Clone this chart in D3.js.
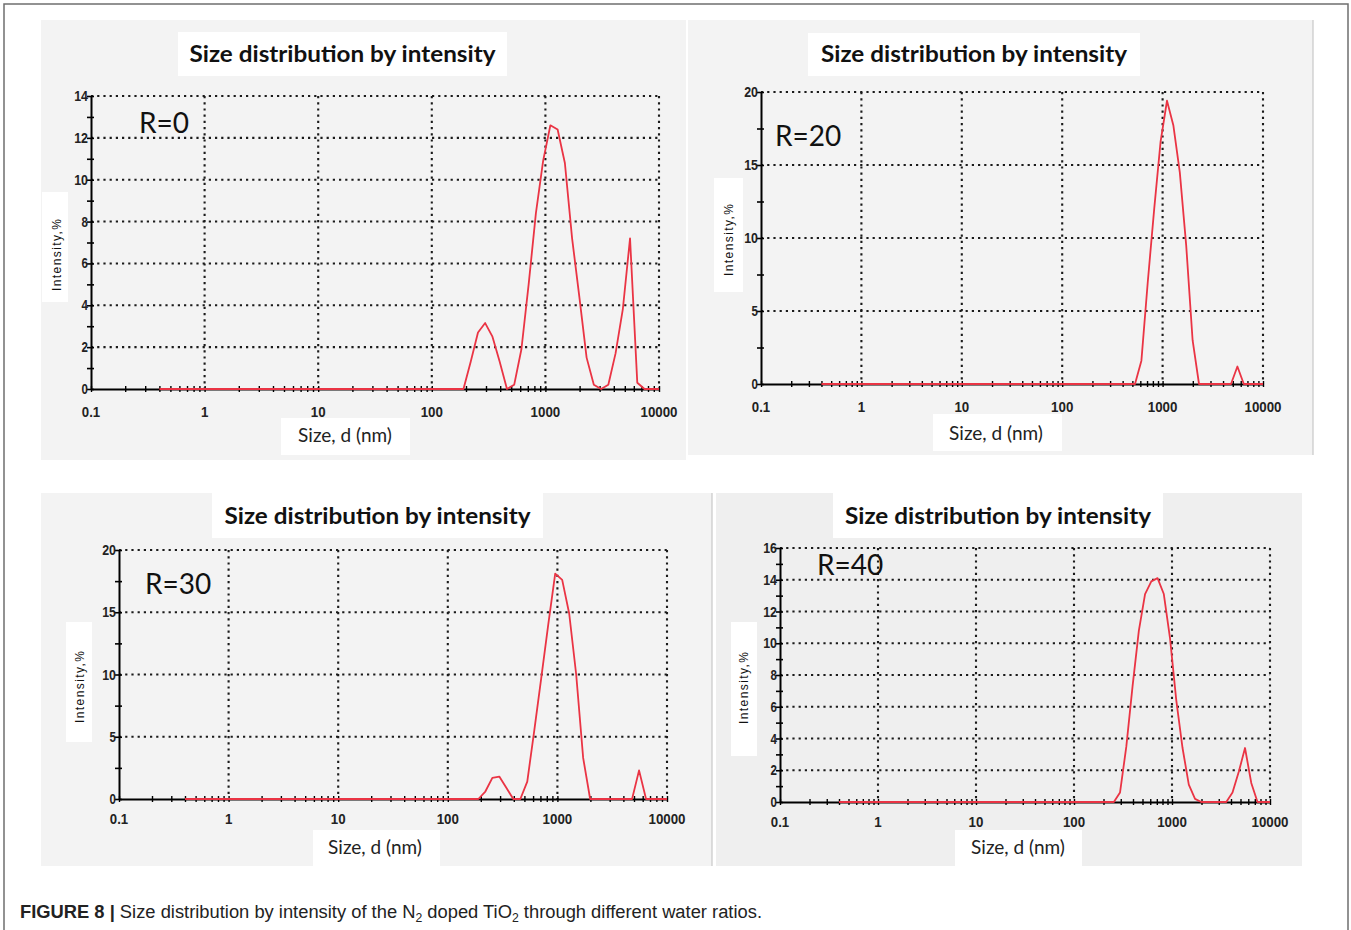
<!DOCTYPE html>
<html>
<head>
<meta charset="utf-8">
<script src="https://cdn.jsdelivr.net/npm/d3@7"></script>
<style>
  body { margin: 0; background: #fff; }
  svg { display: block; }
</style>
</head>
<body>
<svg id="fig" width="1351" height="930"></svg>
<script>
// ---- data (size in nm, intensity in %) ----
const sizesR0 = [0.4, 190, 220, 255, 295, 342, 396, 459, 531, 615, 712, 825, 955, 1106, 1281, 1484, 1718, 1990, 2305, 2669, 3091, 3580, 4145, 4801, 5560, 6439, 7456, 10000];
const intensityR0 = [0, 0, 1.3, 2.7, 3.15, 2.5, 1.3, 0, 0.2, 1.9, 5.0, 8.4, 10.9, 12.6, 12.4, 10.8, 7.2, 4.4, 1.5, 0.2, 0, 0.2, 1.7, 3.8, 7.2, 0.3, 0, 0];

const sizesR20 = [0.4, 531, 615, 712, 825, 955, 1106, 1281, 1484, 1718, 1990, 2305, 4801, 5560, 6439, 10000];
const intensityR20 = [0, 0, 1.6, 7.0, 12.0, 16.6, 19.4, 17.7, 14.5, 9.5, 3.0, 0, 0, 1.2, 0, 0];

const sizesR30 = [0.4, 190, 220, 255, 295, 342, 396, 459, 531, 615, 712, 825, 955, 1106, 1281, 1484, 1718, 1990, 4801, 5560, 6439, 10000];
const intensityR30 = [0, 0, 0.6, 1.7, 1.8, 0.9, 0, 0, 1.4, 5.5, 9.7, 14.0, 18.1, 17.6, 14.9, 10.0, 3.3, 0, 0, 2.3, 0, 0];

const sizesR40 = [0.4, 255, 295, 342, 396, 459, 531, 615, 712, 825, 955, 1106, 1281, 1484, 1718, 1990, 3580, 4145, 4801, 5560, 6439, 7456, 10000];
const intensityR40 = [0, 0, 0.6, 3.5, 7.3, 10.8, 13.1, 13.9, 14.1, 13.1, 10.3, 6.4, 3.4, 1.1, 0.2, 0, 0, 0.6, 1.9, 3.4, 1.2, 0, 0];

const xTickValues = [0.1, 1, 10, 100, 1000, 10000];
const xTickLabels = ["0.1", "1", "10", "100", "1000", "10000"];
const yTicksR0 = [0, 2, 4, 6, 8, 10, 12, 14];
const yTicksR20 = [0, 5, 10, 15, 20];
const yTicksR30 = [0, 5, 10, 15, 20];
const yTicksR40 = [0, 2, 4, 6, 8, 10, 12, 14, 16];
const panelTags = ["R=0", "R=20", "R=30", "R=40"];

const titleText = "Size distribution by intensity";
const xLabelText = "Size, d (nm)";
const yLabelText = "Intensity,%";

// ---- layout of each panel (pixel boxes) ----
const panels = [
  { tag: panelTags[0], sizes: sizesR0, values: intensityR0, yTicks: yTicksR0, yMinor: 1,
    bg: { x: 41, y: 20, w: 645, h: 440, fill: "#f3f3f3" },
    plot: { x0: 91, x1: 659, y0: 389, y1: 96 },
    title: { x: 178, y: 32, w: 329, h: 44, base: 62 },
    tagPos: { x: 139, y: 133 },
    yLab: { x: 42, y: 192, w: 26, h: 110, cx: 57, cy: 255 },
    xLab: { x: 281, y: 418, w: 129, h: 37, cx: 345, base: 442 },
    xTickDy: 28 },
  { tag: panelTags[1], sizes: sizesR20, values: intensityR20, yTicks: yTicksR20, yMinor: 2.5,
    bg: { x: 688, y: 20, w: 625, h: 435, fill: "#f3f3f3", edge: true },
    plot: { x0: 761, x1: 1263, y0: 384, y1: 92 },
    title: { x: 808, y: 33, w: 332, h: 43, base: 62 },
    tagPos: { x: 775, y: 146 },
    yLab: { x: 714, y: 178, w: 29, h: 114, cx: 729, cy: 240 },
    xLab: { x: 933, y: 414, w: 129, h: 37, cx: 996, base: 440 },
    xTickDy: 28 },
  { tag: panelTags[2], sizes: sizesR30, values: intensityR30, yTicks: yTicksR30, yMinor: 2.5,
    bg: { x: 41, y: 493, w: 671, h: 373, fill: "#f3f3f3", edge: true },
    plot: { x0: 119, x1: 667, y0: 799, y1: 550 },
    title: { x: 212, y: 493, w: 331, h: 45, base: 524 },
    tagPos: { x: 145, y: 594 },
    yLab: { x: 66, y: 622, w: 26, h: 120, cx: 80, cy: 687 },
    xLab: { x: 313, y: 830, w: 127, h: 36, cx: 375, base: 854 },
    xTickDy: 25 },
  { tag: panelTags[3], sizes: sizesR40, values: intensityR40, yTicks: yTicksR40, yMinor: 1,
    bg: { x: 716, y: 493, w: 586, h: 373, fill: "#efefef" },
    plot: { x0: 780, x1: 1270, y0: 802, y1: 548 },
    title: { x: 833, y: 493, w: 330, h: 45, base: 524 },
    tagPos: { x: 817, y: 575 },
    yLab: { x: 731, y: 622, w: 26, h: 134, cx: 744, cy: 688 },
    xLab: { x: 955, y: 830, w: 127, h: 36, cx: 1018, base: 854 },
    xTickDy: 25 }
];

const svg = d3.select("#fig");

// page frame
svg.append("path")
  .attr("d", "M4,930 V4 H1348 V930")
  .attr("fill", "none")
  .attr("stroke", "#6f6f6f")
  .attr("stroke-width", 1.5);

const dotted = "2.2,4";
const tickFont = "'Liberation Sans', Arial, sans-serif";
// narrow bold digits, like the instrument's plot labels
const labelWidth = (s) => s.split("").reduce((w, c) => w + (c === "." ? 3.5 : 7.4), 0);

panels.forEach((p) => {
  const g = svg.append("g");

  g.append("rect")
    .attr("x", p.bg.x).attr("y", p.bg.y)
    .attr("width", p.bg.w).attr("height", p.bg.h)
    .attr("fill", p.bg.fill);
  if (p.bg.edge) {
    g.append("line")
      .attr("x1", p.bg.x + p.bg.w).attr("x2", p.bg.x + p.bg.w)
      .attr("y1", p.bg.y).attr("y2", p.bg.y + p.bg.h)
      .attr("stroke", "#c8c8c8").attr("stroke-width", 1.2);
  }

  const yMax = p.yTicks[p.yTicks.length - 1];
  const xScale = d3.scaleLog().domain([0.1, 10000]).range([p.plot.x0, p.plot.x1]);
  const yScale = d3.scaleLinear().domain([0, yMax]).range([p.plot.y0, p.plot.y1]);

  // Grid (dotted)
  const grid = g.append("g")
    .attr("stroke", "#1a1a1a")
    .attr("stroke-width", 2.1)
    .attr("stroke-dasharray", dotted);
  p.yTicks.filter((t) => t > 0).forEach((t) => {
    grid.append("line")
      .attr("x1", p.plot.x0).attr("x2", p.plot.x1)
      .attr("y1", yScale(t)).attr("y2", yScale(t));
  });
  xTickValues.slice(1).forEach((t) => {
    grid.append("line")
      .attr("x1", xScale(t)).attr("x2", xScale(t))
      .attr("y1", p.plot.y1).attr("y2", p.plot.y0);
  });

  // white boxes behind the texts
  g.append("rect")
    .attr("x", p.title.x).attr("y", p.title.y)
    .attr("width", p.title.w).attr("height", p.title.h)
    .attr("fill", "#fff");
  g.append("rect")
    .attr("x", p.yLab.x).attr("y", p.yLab.y)
    .attr("width", p.yLab.w).attr("height", p.yLab.h)
    .attr("fill", "#fff");
  g.append("rect")
    .attr("x", p.xLab.x).attr("y", p.xLab.y)
    .attr("width", p.xLab.w).attr("height", p.xLab.h)
    .attr("fill", "#fff");

  // Axis
  const yMinorTicks = d3.range(0, yMax + 0.001, p.yMinor);
  const yAxisG = g.append("g")
    .attr("transform", `translate(${p.plot.x0},0)`)
    .call(d3.axisLeft(yScale).tickValues(yMinorTicks).tickSize(4).tickFormat("").tickSizeOuter(0));
  yAxisG.selectAll(".tick line").attr("x1", 3).attr("stroke-width", 1.6);
  yAxisG.select(".domain").attr("stroke-width", 2);

  const xAxisG = g.append("g")
    .attr("transform", `translate(0,${p.plot.y0})`)
    .call(d3.axisBottom(xScale).ticks(10).tickSize(3).tickFormat("").tickSizeOuter(0));
  xAxisG.selectAll(".tick line").attr("y1", -3).attr("stroke-width", 1.4);
  xAxisG.select(".domain").attr("stroke-width", 2);

  // tick labels
  g.append("g")
    .selectAll("text")
    .data(p.yTicks)
    .join("text")
    .attr("x", p.plot.x0 - 3)
    .attr("y", (d) => yScale(d) + 5)
    .attr("text-anchor", "end")
    .attr("font-family", tickFont)
    .attr("font-weight", "bold")
    .attr("font-size", 14)
    .attr("fill", "#222")
    .attr("textLength", (d) => labelWidth(String(d)) - 1)
    .attr("lengthAdjust", "spacingAndGlyphs")
    .text((d) => d);

  g.append("g")
    .selectAll("text")
    .data(xTickValues)
    .join("text")
    .attr("x", (d) => xScale(d))
    .attr("y", p.plot.y0 + p.xTickDy)
    .attr("text-anchor", "middle")
    .attr("font-family", tickFont)
    .attr("font-weight", "bold")
    .attr("font-size", 14)
    .attr("fill", "#222")
    .attr("textLength", (d, i) => labelWidth(xTickLabels[i]))
    .attr("lengthAdjust", "spacingAndGlyphs")
    .text((d, i) => xTickLabels[i]);

  // the size distribution curve
  const line = d3.line()
    .x((d) => xScale(d[0]))
    .y((d) => yScale(d[1]));
  g.append("path")
    .datum(d3.zip(p.sizes, p.values))
    .attr("fill", "none")
    .attr("stroke", "#ea3444")
    .attr("stroke-width", 1.8)
    .attr("stroke-linejoin", "round")
    .attr("d", line);

  // texts
  g.append("text")
    .attr("x", p.title.x + p.title.w / 2)
    .attr("y", p.title.base)
    .attr("text-anchor", "middle")
    .attr("font-family", "Lato, 'Open Sans', sans-serif")
    .attr("font-weight", "bold")
    .attr("font-size", 23)
    .attr("fill", "#111")
    .attr("textLength", 306)
    .attr("lengthAdjust", "spacingAndGlyphs")
    .text(titleText);

  g.append("text")
    .attr("x", p.tagPos.x)
    .attr("y", p.tagPos.y)
    .attr("font-family", "Lato, 'Open Sans', sans-serif")
    .attr("font-size", 28)
    .attr("fill", "#111")
    .text(p.tag);

  g.append("text")
    .attr("transform", `translate(${p.yLab.cx + 4},${p.yLab.cy}) rotate(-90)`)
    .attr("text-anchor", "middle")
    .attr("font-family", "'Liberation Sans', Arial, sans-serif")
    .attr("font-size", 12)
    .attr("fill", "#111")
    .attr("textLength", 72)
    .attr("lengthAdjust", "spacing")
    .text(yLabelText);

  g.append("text")
    .attr("x", p.xLab.cx)
    .attr("y", p.xLab.base)
    .attr("text-anchor", "middle")
    .attr("font-family", "Lato, 'Open Sans', sans-serif")
    .attr("font-size", 19)
    .attr("fill", "#222")
    .text(xLabelText);
});

// caption
const caption = svg.append("text")
  .attr("x", 20)
  .attr("y", 918)
  .attr("font-family", "'Liberation Sans', Arial, sans-serif")
  .attr("font-size", 18)
  .attr("fill", "#222")
  .attr("textLength", 742)
  .attr("lengthAdjust", "spacingAndGlyphs");
caption.append("tspan").attr("font-weight", "bold").text("FIGURE 8 | ");
caption.append("tspan").text("Size distribution by intensity of the N");
caption.append("tspan").attr("font-size", 12).attr("dy", 4).text("2");
caption.append("tspan").attr("dy", -4).text(" doped TiO");
caption.append("tspan").attr("font-size", 12).attr("dy", 4).text("2");
caption.append("tspan").attr("dy", -4).text(" through different water ratios.");
</script>
</body>
</html>
